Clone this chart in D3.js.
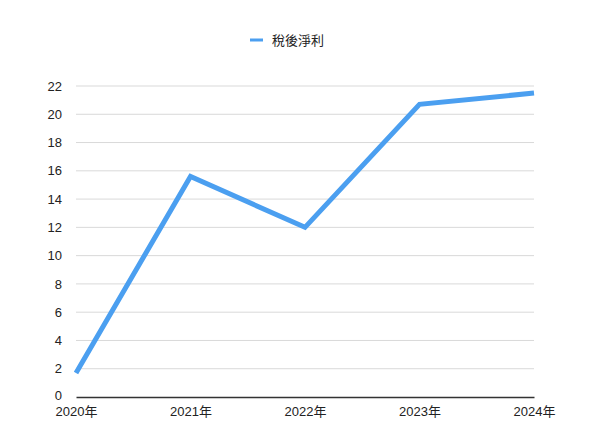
<!DOCTYPE html>
<html>
<head>
<meta charset="utf-8">
<script src="https://cdn.jsdelivr.net/npm/d3@7"></script>
<style>
  body { margin: 0; background: #fff; }
  svg { display: block; font-family: "Liberation Sans", Arial, "Noto Sans CJK TC", sans-serif; }
</style>
</head>
<body>
<div id="chart"></div>
<script>
// Net profit after tax, per year
const years = ['2020年', '2021年', '2022年', '2023年', '2024年'];
const netProfit = [1.7, 15.6, 12.0, 20.7, 21.5];
const yTicks = [0, 2, 4, 6, 8, 10, 12, 14, 16, 18, 20, 22];
const seriesName = '稅後淨利';

const width = 600, height = 448;
const margin = { top: 86, right: 66, bottom: 51, left: 76 };
const lineColor = '#4b9ff0';

const svg = d3.select('#chart').append('svg')
    .attr('width', width)
    .attr('height', height);

const x = d3.scalePoint()
    .domain(years)
    .range([margin.left, width - margin.right]);

const y = d3.scaleLinear()
    .domain([0, 22])
    .range([height - margin.bottom, margin.top]);

// gridlines
svg.append('g')
    .selectAll('line')
    .data(yTicks.filter(d => d > 0))
    .join('line')
    .attr('x1', margin.left)
    .attr('x2', width - margin.right)
    .attr('y1', d => y(d))
    .attr('y2', d => y(d))
    .attr('stroke', '#d9d9d9')
    .attr('stroke-width', 1);

// y axis labels
const yAxis = svg.append('g')
    .attr('transform', `translate(${margin.left},0)`)
    .call(d3.axisLeft(y).tickValues(yTicks).tickSize(0).tickPadding(14));
yAxis.select('.domain').remove();
yAxis.selectAll('text')
    .attr('font-size', 13)
    .attr('fill', '#222')
    .attr('font-family', '"Liberation Sans", Arial, sans-serif');
// lift the zero label a touch so it clears the first year label
yAxis.selectAll('.tick').filter(d => d === 0).select('text').attr('dy', '0.2em');

// x axis
const xAxis = svg.append('g')
    .attr('transform', `translate(0,${y(0)})`)
    .call(d3.axisBottom(x).tickSize(0).tickPadding(10));
xAxis.select('.domain')
    .attr('stroke', '#333')
    .attr('stroke-width', 1.5);
xAxis.selectAll('text')
    .attr('font-size', 13)
    .attr('fill', '#222')
    .attr('font-family', '"Liberation Sans", Arial, "Noto Sans CJK TC", sans-serif');

// series line
const line = d3.line()
    .x((d, i) => x(years[i]))
    .y(d => y(d));

svg.append('path')
    .datum(netProfit)
    .attr('d', line)
    .attr('fill', 'none')
    .attr('stroke', lineColor)
    .attr('stroke-width', 5)
    .attr('stroke-linejoin', 'miter');

// legend
const legend = svg.append('g').attr('transform', 'translate(250,40)');
legend.append('line')
    .attr('x1', 0).attr('x2', 13)
    .attr('stroke', lineColor)
    .attr('stroke-width', 3);
legend.append('text')
    .attr('x', 22)
    .attr('dy', '0.35em')
    .attr('font-size', 13)
    .attr('fill', '#222')
    .attr('font-family', '"Noto Sans CJK TC", sans-serif')
    .text(seriesName);
</script>
</body>
</html>
